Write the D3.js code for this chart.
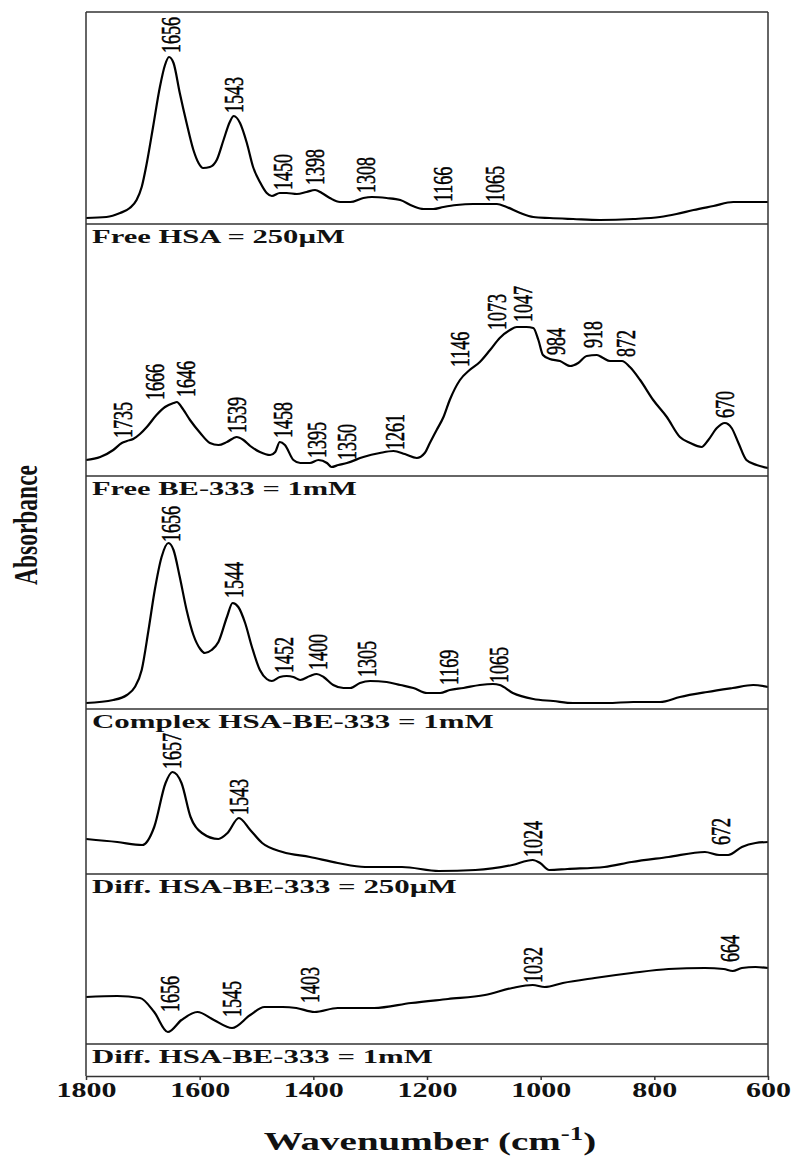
<!DOCTYPE html>
<html>
<head>
<meta charset="utf-8">
<script src="https://cdn.jsdelivr.net/npm/d3@7"></script>
<style>
  body { margin: 0; background: #fff; }
</style>
</head>
<body>
<script>
// ---- data (wavenumber cm-1, relative absorbance) ----
const xTicks = [1800, 1600, 1400, 1200, 1000, 800, 600];
const panelTitles = ["Free HSA = 250\u00b5M", "Free BE-333 = 1mM", "Complex HSA-BE-333 = 1mM",
                     "Diff. HSA-BE-333 = 250\u00b5M", "Diff. HSA-BE-333 = 1mM"];

const freeHSA = [[1800,0.06],[1764,0.07],[1740,0.11],[1723,0.16],[1711,0.24],[1702,0.37],[1693,0.61],[1682,0.97],
  [1670,1.37],[1661,1.59],[1654,1.67],[1646,1.61],[1635,1.31],[1623,1.01],[1611,0.74],[1602,0.61],[1594,0.56],
  [1582,0.57],[1570,0.64],[1558,0.84],[1547,1.02],[1540,1.08],[1529,1.01],[1517,0.81],[1506,0.57],[1494,0.42],
  [1482,0.31],[1473,0.28],[1459,0.31],[1447,0.31],[1429,0.30],[1412,0.32],[1397,0.34],[1385,0.31],[1371,0.26],
  [1353,0.22],[1335,0.22],[1312,0.26],[1297,0.27],[1271,0.26],[1247,0.24],[1225,0.18],[1206,0.15],[1189,0.15],
  [1171,0.17],[1148,0.19],[1119,0.20],[1077,0.20],[1060,0.17],[1036,0.11],[1013,0.07],[984,0.06],[943,0.05],
  [896,0.04],[837,0.05],[790,0.07],[761,0.10],[731,0.14],[696,0.18],[661,0.22],[632,0.22],[600,0.22]];

const freeBE = [[1800,0.16],[1775,0.19],[1752,0.26],[1737,0.33],[1728,0.35],[1717,0.37],[1705,0.42],[1693,0.49],
  [1676,0.61],[1661,0.69],[1646,0.73],[1640,0.74],[1632,0.69],[1617,0.56],[1599,0.43],[1582,0.33],[1567,0.31],
  [1552,0.34],[1535,0.39],[1523,0.36],[1511,0.30],[1494,0.24],[1476,0.21],[1467,0.24],[1459,0.34],[1450,0.31],
  [1435,0.16],[1423,0.13],[1406,0.13],[1391,0.16],[1376,0.13],[1368,0.09],[1356,0.11],[1341,0.13],[1312,0.19],
  [1283,0.23],[1259,0.25],[1239,0.22],[1218,0.18],[1204,0.23],[1195,0.33],[1183,0.46],[1171,0.59],[1160,0.76],
  [1142,0.96],[1125,1.06],[1107,1.14],[1089,1.26],[1072,1.38],[1054,1.46],[1042,1.49],[1025,1.49],[1013,1.48],
  [1004,1.36],[996,1.21],[984,1.17],[966,1.15],[948,1.10],[934,1.13],[919,1.20],[901,1.21],[890,1.18],[878,1.15],
  [857,1.15],[843,1.09],[825,0.96],[802,0.76],[778,0.59],[755,0.39],[737,0.33],[717,0.29],[705,0.36],[690,0.48],
  [676,0.53],[664,0.48],[652,0.33],[638,0.16],[620,0.11],[600,0.08]];

const complex1mM = [[1800,0.06],[1752,0.09],[1728,0.14],[1714,0.22],[1702,0.39],[1690,0.79],[1679,1.19],[1667,1.52],
  [1655,1.66],[1646,1.59],[1635,1.32],[1623,0.99],[1611,0.74],[1599,0.60],[1591,0.56],[1579,0.59],[1567,0.67],
  [1552,0.92],[1542,1.06],[1532,1.02],[1520,0.86],[1508,0.62],[1494,0.39],[1482,0.30],[1473,0.28],[1459,0.32],
  [1447,0.33],[1435,0.32],[1423,0.29],[1406,0.33],[1394,0.35],[1382,0.32],[1365,0.24],[1347,0.21],[1335,0.21],
  [1318,0.26],[1300,0.28],[1271,0.27],[1247,0.24],[1224,0.21],[1200,0.16],[1177,0.16],[1160,0.19],[1136,0.21],
  [1107,0.24],[1084,0.25],[1072,0.24],[1049,0.16],[1013,0.10],[978,0.08],[943,0.06],[883,0.06],[837,0.07],
  [790,0.07],[755,0.12],[707,0.17],[662,0.21],[626,0.24],[600,0.22]];

const diff250 = [[1800,0.35],[1745,0.32],[1701,0.29],[1680,0.47],[1660,0.91],[1648,1.02],[1632,0.91],[1616,0.57],
  [1596,0.41],[1567,0.35],[1551,0.41],[1531,0.56],[1511,0.44],[1490,0.31],[1454,0.22],[1406,0.17],[1357,0.11],
  [1309,0.07],[1244,0.07],[1179,0.03],[1115,0.04],[1050,0.09],[1014,0.14],[1001,0.11],[985,0.04],[953,0.05],
  [888,0.07],[840,0.12],[775,0.17],[711,0.22],[686,0.19],[670,0.19],[646,0.27],[622,0.31],[600,0.32]];

const diff1mM = [[1800,0.47],[1745,0.48],[1705,0.46],[1680,0.32],[1656,0.12],[1632,0.24],[1604,0.32],[1575,0.24],
  [1543,0.16],[1511,0.29],[1486,0.37],[1454,0.37],[1430,0.36],[1398,0.32],[1357,0.36],[1293,0.36],[1228,0.41],
  [1163,0.45],[1098,0.49],[1050,0.56],[1014,0.59],[993,0.57],[961,0.61],[905,0.66],[840,0.71],[775,0.75],
  [711,0.76],[678,0.75],[662,0.73],[646,0.76],[622,0.77],[600,0.76]];

// peak labels: [text, wavenumber where drawn, level of label foot]
const freeHSAPeaks = [["1656",1651,1.71],["1543",1540,1.11],["1450",1453,0.34],["1398",1397,0.39],
  ["1308",1307,0.31],["1166",1171,0.22],["1065",1080,0.22]];
const freeBEPeaks = [["1735",1734,0.38],["1666",1679,0.76],["1646",1624,0.79],["1539",1535,0.43],
  ["1458",1453,0.38],["1395",1394,0.18],["1350",1341,0.16],["1261",1256,0.26],["1146",1142,1.09],
  ["1073",1077,1.46],["1047",1031,1.54],["984",972,1.21],["918",907,1.28],["872",849,1.19],["670",676,0.58]];
const complexPeaks = [["1656",1651,1.67],["1544",1540,1.11],["1452",1452,0.36],["1400",1391,0.39],
  ["1305",1305,0.32],["1169",1162,0.24],["1065",1073,0.26]];
const diff250Peaks = [["1657",1648,1.05],["1543",1531,0.59],["1024",1013,0.17],["672",683,0.29]];
const diff1mMPeaks = [["1656",1652,0.32],["1545",1543,0.27],["1403",1406,0.41],["1032",1014,0.61],["664",666,0.82]];

// ---- layout ----
const W = 800, H = 1166;
const plotLeft = 86, plotRight = 768, plotTop = 12, axisY = 1076;
const serif = "'Liberation Serif', 'Times New Roman', serif";

const panels = [
  { title: panelTitles[0], data: freeHSA,    peaks: freeHSAPeaks, top: 12,  bottom: 224,  titleW: 253 },
  { title: panelTitles[1], data: freeBE,     peaks: freeBEPeaks,  top: 250, bottom: 476,  titleW: 265 },
  { title: panelTitles[2], data: complex1mM, peaks: complexPeaks, top: 502, bottom: 709,  titleW: 402 },
  { title: panelTitles[3], data: diff250,    peaks: diff250Peaks, top: 735, bottom: 874,  titleW: 365 },
  { title: panelTitles[4], data: diff1mM,    peaks: diff1mMPeaks, top: 902, bottom: 1044, titleW: 341 }
];

const svg = d3.select("body").append("svg")
    .attr("width", W)
    .attr("height", H)
    .style("background", "#fff");

const x = d3.scaleLinear().domain([1800, 600]).range([plotLeft, plotRight]);

// stretch a text horizontally so it spans a given width
function fitWidth(sel, width) {
  sel.each(function() {
    const t = d3.select(this);
    const w = this.getComputedTextLength();
    const base = t.attr("transform") || "";
    t.attr("transform", base + ` scale(${width / w},1)`);
  });
}

panels.forEach(p => {
  const y = d3.scaleLinear().domain([0, (p.bottom - p.top) / 100]).range([p.bottom, p.top]);
  const line = d3.line()
      .x(d => x(d[0]))
      .y(d => y(d[1]))
      .curve(d3.curveMonotoneX);

  svg.append("path")
      .datum(p.data)
      .attr("fill", "none")
      .attr("stroke", "#000")
      .attr("stroke-width", 2.2)
      .attr("stroke-linejoin", "round")
      .attr("d", line);

  svg.append("g")
      .selectAll("text")
      .data(p.peaks)
      .join("text")
      .attr("transform", d => `translate(${x(d[1])},${y(d[2])}) rotate(-90) scale(1,1.5)`)
      .attr("dy", "0.33em")
      .style("font-family", serif)
      .style("font-size", "18px")
      .attr("fill", "#000")
      .attr("stroke", "#000")
      .attr("stroke-width", 0.35)
      .text(d => d[0]);

  // separator under the trace
  svg.append("line")
      .attr("x1", plotLeft).attr("x2", plotRight)
      .attr("y1", p.bottom).attr("y2", p.bottom)
      .attr("stroke", "#333").attr("stroke-width", 1.5);

  const title = svg.append("text")
      .attr("transform", `translate(92,${p.bottom + 19})`)
      .style("font-family", serif)
      .style("font-weight", "bold")
      .style("font-size", "19px")
      .attr("fill", "#111")
      .text(p.title);
  fitWidth(title, p.titleW);
});

// frame
svg.append("line").attr("x1", plotLeft).attr("x2", plotRight).attr("y1", plotTop).attr("y2", plotTop)
    .attr("stroke", "#333").attr("stroke-width", 1.5);
svg.append("line").attr("x1", plotLeft).attr("x2", plotLeft).attr("y1", plotTop).attr("y2", axisY)
    .attr("stroke", "#333").attr("stroke-width", 1.5);
svg.append("line").attr("x1", plotRight).attr("x2", plotRight).attr("y1", plotTop).attr("y2", axisY)
    .attr("stroke", "#333").attr("stroke-width", 1.5);

// x axis
const axis = svg.append("g")
    .attr("transform", `translate(0,${axisY})`)
    .call(d3.axisBottom(x).tickValues(xTicks).tickSize(4).tickSizeOuter(0).tickFormat(d3.format("d")));
axis.select(".domain").attr("stroke", "#333").attr("stroke-width", 1.5);
axis.selectAll(".tick line").attr("stroke", "#333").attr("stroke-width", 1.5);
axis.selectAll(".tick text")
    .attr("y", 21).attr("dy", 0)
    .style("font-family", serif)
    .style("font-weight", "bold")
    .style("font-size", "20px")
    .attr("fill", "#111")
    .attr("transform", "scale(1.5,1)");

// axis titles
const xTitle = svg.append("text")
    .attr("text-anchor", "middle")
    .style("font-family", serif)
    .style("font-weight", "bold")
    .style("font-size", "26px")
    .attr("fill", "#111");
xTitle.append("tspan").text("Wavenumber (cm");
xTitle.append("tspan").attr("dy", -10).style("font-size", "18px").text("-1");
xTitle.append("tspan").attr("dy", 10).text(")");
xTitle.attr("transform", `translate(${(plotLeft + plotRight) / 2 + 3},1150) scale(1.5,1)`);

const yTitle = svg.append("text")
    .attr("text-anchor", "middle")
    .attr("dy", "0.35em")
    .style("font-family", serif)
    .style("font-weight", "bold")
    .style("font-size", "22px")
    .attr("fill", "#111")
    .text("Absorbance");
const yw = yTitle.node().getComputedTextLength();
yTitle.attr("transform", `translate(25,525) rotate(-90) scale(${120 / yw},1.5)`);
</script>
</body>
</html>
